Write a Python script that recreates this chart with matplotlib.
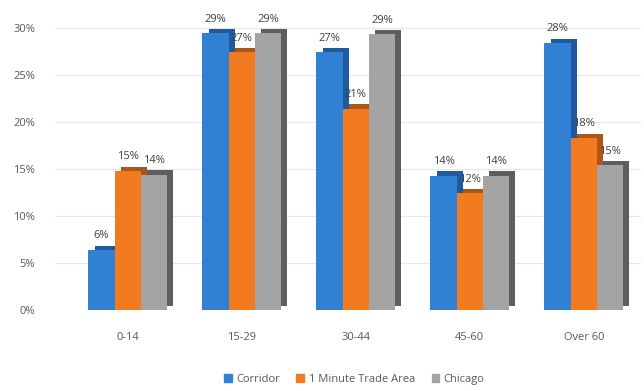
import numpy as np
import matplotlib.pyplot as plt
from matplotlib.patches import Patch

plt.rcParams['font.family'] = ['Open Sans', 'DejaVu Sans']

categories = ['0-14', '15-29', '30-44', '45-60', 'Over 60']
series_names = ['Corridor', '1 Minute Trade Area', 'Chicago']
corridor = [6.4, 29.4, 27.4, 14.3, 28.4]
trade_area = [14.8, 27.4, 21.4, 12.4, 18.3]
chicago = [14.4, 29.4, 29.3, 14.3, 15.4]
yticks = [0, 5, 10, 15, 20, 25, 30]

front_colors = ['#3080D4', '#F27A1F', '#A4A4A4']
side_colors = ['#1F5A9C', '#B0551A', '#5E5E5E']

fig = plt.figure(figsize=(6.44, 3.91), dpi=100)
ax = fig.add_axes([0.085, 0.207, 0.91, 0.77])

x = np.arange(len(categories))
w = 0.23
dx, dy = 0.055, 0.45
for i, vals in enumerate([corridor, trade_area, chicago]):
    off = (i - 1) * w
    # depth face (drawn behind, shifted right/up)
    ax.bar(x + off + dx, vals, bottom=dy, width=w, color=side_colors[i], zorder=2 + i * 2)
    bars = ax.bar(x + off, vals, width=w, color=front_colors[i], zorder=3 + i * 2)
    for b, v in zip(bars, vals):
        ax.text(b.get_x() + b.get_width() / 2, v + 0.9, f'{v:.0f}%', ha='center', va='bottom',
                fontsize=8, color='#404040', zorder=10)

ax.set_xlim(-0.64, 4.5)
ax.set_ylim(0, 32)
ax.set_yticks(yticks)
ax.set_yticklabels([f'{t}%' for t in yticks])
ax.set_xticks(x)
ax.set_xticklabels(categories)
ax.tick_params(axis='both', length=0, labelsize=8, colors='#595959')
ax.tick_params(axis='x', pad=16)
ax.tick_params(axis='y', pad=14)
ax.grid(axis='y', color='#E6E6E6', linewidth=0.8, zorder=0)
for s in ax.spines.values():
    s.set_visible(False)

handles = [Patch(color=c) for c in front_colors]
fig.legend(handles, series_names, loc='lower center', ncol=3, frameon=False, fontsize=8,
           handlelength=0.7, handleheight=0.7, columnspacing=1.5, handletextpad=0.4,
           bbox_to_anchor=(0.55, -0.01), labelcolor='#595959')

fig.savefig('out.png', dpi=100)
